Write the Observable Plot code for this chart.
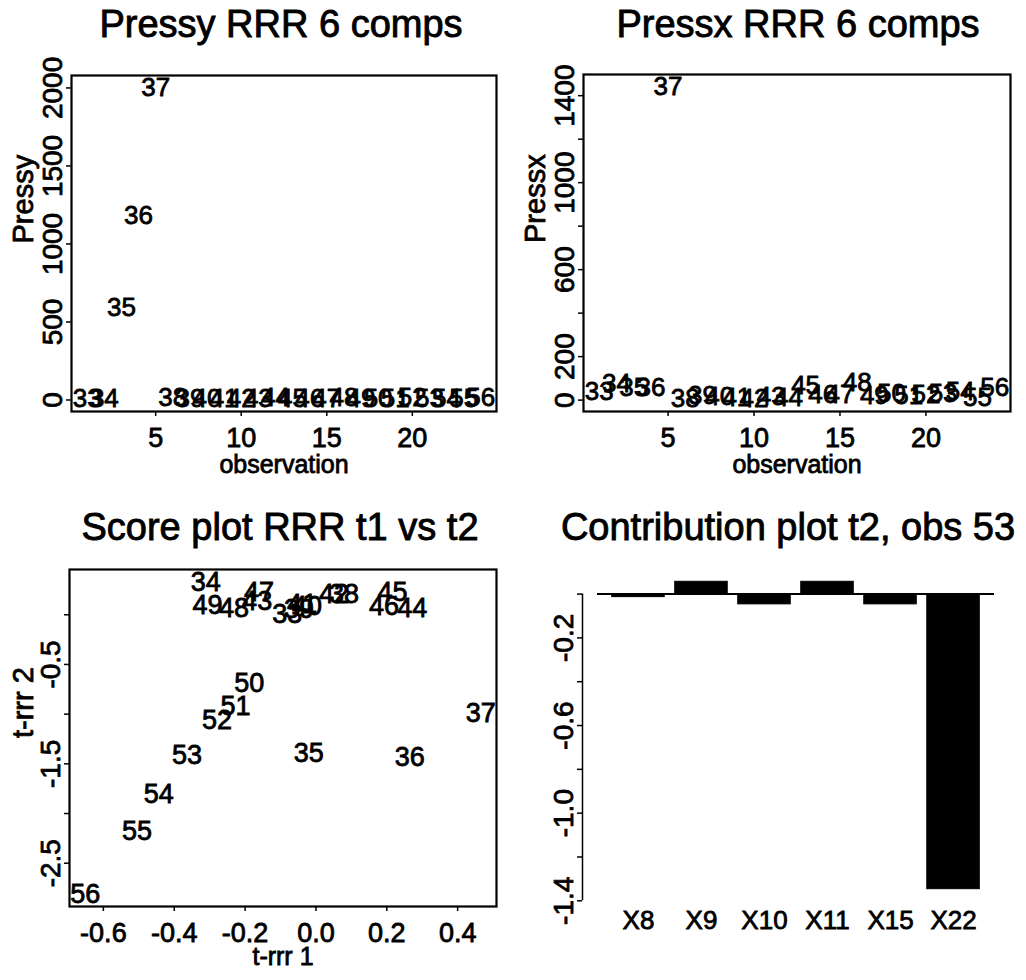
<!DOCTYPE html>
<html>
<head>
<meta charset="utf-8">
<script src="https://cdn.jsdelivr.net/npm/d3@7"></script>
<script src="https://cdn.jsdelivr.net/npm/@observablehq/plot@0.6"></script>
<style>
  body { margin: 0; background: #fff; }
  #root { position: relative; width: 1026px; height: 980px; overflow: hidden; background: #fff;
          font-family: "Liberation Sans", Arial, Helvetica, sans-serif; color: #000; }
  .title { position: absolute; font-size: 38px; line-height: 1; white-space: nowrap;
           transform: translateX(-50%); -webkit-text-stroke: 0.9px #000; }
  .panel { position: absolute; }
  #root svg text { stroke: #000; stroke-width: 0.8px; }
</style>
</head>
<body>
<div id="root"></div>
<script>
// ---------- data ----------
const obs = [33,34,35,36,37,38,39,40,41,42,43,44,45,46,47,48,49,50,51,52,53,54,55,56];
const pressy = [8,10,590,1180,2000,12,10,8,10,6,10,12,10,8,10,12,10,8,10,12,10,8,10,12];
const pressx = [40,75,55,55,1440,5,20,15,10,5,15,10,65,25,25,78,20,30,20,25,30,40,10,55];
const t1 = [-0.081,-0.311,-0.020,0.265,0.465,0.079,-0.048,-0.025,-0.039,0.051,-0.166,0.272,
            0.216,0.192,-0.161,-0.231,-0.306,-0.188,-0.227,-0.279,-0.364,-0.444,-0.505,-0.651];
const t2 = [0.00,0.33,-1.39,-1.43,-0.99,0.21,0.05,0.08,0.10,0.21,0.13,0.06,
            0.23,0.08,0.23,0.06,0.095,-0.69,-0.92,-1.06,-1.41,-1.81,-2.18,-2.81];
const categories = ["X8","X9","X10","X11","X15","X22"];
const contrib = [-0.014,0.056,-0.047,0.056,-0.047,-1.347];

const titles = ["Pressy RRR 6 comps","Pressx RRR 6 comps","Score plot RRR t1 vs t2","Contribution plot t2, obs 53"];

const obsTicks = [5,10,15,20];
const pressyTicks = [0,500,1000,1500,2000];
const pressyTickLabels = ["0","500","1000","1500","2000"];
const pressxTicks = [0,200,400,600,800,1000,1200,1400];
const pressxTickLabels = ["0","200","","600","","1000","","1400"];
const t1Ticks = [-0.6,-0.4,-0.2,0,0.2,0.4];
const t1TickLabels = ["-0.6","-0.4","-0.2","0.0","0.2","0.4"];
const t2Ticks = [0,-0.5,-1,-1.5,-2,-2.5];
const t2TickLabels = ["","-0.5","","-1.5","","-2.5"];
const contribTicks = [0,-0.2,-0.4,-0.6,-0.8,-1.0,-1.2,-1.4];
const contribTickLabels = ["","-0.2","","-0.6","","-1.0","","-1.4"];

// ---------- helpers ----------
const FONT = "'Liberation Sans', Arial, Helvetica, sans-serif";
const observation = obs.map((d, i) => i + 1);
const obsText = obs.map(String);
function rExt(arr) { const [a, b] = d3.extent(arr); const e = (b - a) * 0.04; return [a - e, b + e]; }
function fmt(ticks, labels) { const m = new Map(ticks.map((t, i) => [t, labels[i]])); return d => m.get(d) ?? ""; }
const baseStyle = { fontFamily: FONT, fontSize: "26px", color: "#000", background: "transparent", overflow: "visible" };

const root = document.getElementById("root");
function place(el, left, top, w, h) {
  const div = document.createElement("div");
  div.className = "panel";
  div.style.left = left + "px"; div.style.top = top + "px";
  div.style.width = w + "px"; div.style.height = h + "px";
  div.appendChild(el); root.appendChild(div);
}
function addTitle(text, cx, top) {
  const t = document.createElement("div");
  t.className = "title"; t.textContent = text;
  t.style.left = cx + "px"; t.style.top = top + "px";
  root.appendChild(t);
}

function axesCommon(xTicks, xFmt, yTicks, yFmt) {
  return [
    Plot.axisX({ticks: xTicks, tickFormat: xFmt, tickSize: 5, tickPadding: 11, fontSize: 27, label: null, strokeWidth: 1.5}),
    Plot.axisY({ticks: yTicks, tickFormat: yFmt, tickSize: 5, tickPadding: 5, tickRotate: -90, fontSize: 28, label: null, strokeWidth: 1.5})
  ];
}

// ---------- panel 1: Pressy ----------
const p1 = Plot.plot({
  width: 513, height: 420, marginLeft: 71, marginRight: 17, marginTop: 15, marginBottom: 69,
  style: baseStyle,
  x: {domain: rExt(observation)},
  y: {domain: rExt(pressy)},
  marks: [
    Plot.frame({stroke: "#000", strokeWidth: 2.2}),
    ...axesCommon(obsTicks, d => String(d), pressyTicks, fmt(pressyTicks, pressyTickLabels)),
    Plot.text(obsText, {x: observation, y: pressy, text: d => d, fontSize: 26}),
    Plot.text(["observation"], {frameAnchor: "bottom", dy: 61, fontSize: 25}),
    Plot.text(["Pressy"], {frameAnchor: "left", dx: -48, rotate: -90, fontSize: 29})
  ]
});
place(p1, 0, 60, 513, 420);

// ---------- panel 2: Pressx ----------
const p2 = Plot.plot({
  width: 513, height: 420, marginLeft: 70, marginRight: 16, marginTop: 14, marginBottom: 69,
  style: baseStyle,
  x: {domain: rExt(observation)},
  y: {domain: rExt(pressx)},
  marks: [
    Plot.frame({stroke: "#000", strokeWidth: 2.2}),
    ...axesCommon(obsTicks, d => String(d), pressxTicks, fmt(pressxTicks, pressxTickLabels)),
    Plot.text(obsText, {x: observation, y: pressx, text: d => d, fontSize: 26}),
    Plot.text(["observation"], {frameAnchor: "bottom", dy: 61, fontSize: 25}),
    Plot.text(["Pressx"], {frameAnchor: "left", dx: -48, rotate: -90, fontSize: 29})
  ]
});
place(p2, 513, 60, 513, 420);

// ---------- panel 3: Score plot ----------
const p3 = Plot.plot({
  width: 513, height: 425, marginLeft: 69, marginRight: 17, marginTop: 14, marginBottom: 74,
  style: baseStyle,
  x: {domain: rExt(t1)},
  y: {domain: rExt(t2)},
  marks: [
    Plot.frame({stroke: "#000", strokeWidth: 2.2}),
    ...axesCommon(t1Ticks, fmt(t1Ticks, t1TickLabels), t2Ticks, fmt(t2Ticks, t2TickLabels)),
    Plot.text(obsText, {x: t1, y: t2, text: d => d, fontSize: 27}),
    Plot.text(["t-rrr 1"], {frameAnchor: "bottom", dy: 58, fontSize: 25, letterSpacing: "2px"}),
    Plot.text(["t-rrr 2"], {frameAnchor: "left", dx: -46, rotate: -90, fontSize: 29, letterSpacing: "3px"})
  ]
});
place(p3, 0, 555, 513, 425);

// ---------- panel 4: Contribution bar plot ----------
const barX1 = categories.map((d, i) => 0.2 + 1.2 * i);   // barplot layout: width 1, space 0.2
const barX2 = barX1.map(v => v + 1);
const barMid = barX1.map(v => v + 0.5);
const xr = rExt([...barX1, ...barX2]);
const m4 = {left: 69, right: 32, top: 14, bottom: 79};
const inner4 = 513 - m4.left - m4.right;
const gapPx = 15;
const xLeft = xr[0] - gapPx * (xr[1] - xr[0]) / (inner4 - gapPx);
const yr4 = rExt([0, ...contrib]);
const p4 = Plot.plot({
  width: 513, height: 425, marginLeft: m4.left, marginRight: m4.right, marginTop: m4.top, marginBottom: m4.bottom,
  style: baseStyle,
  x: {domain: [xLeft, xr[1]], axis: null},
  y: {domain: yr4},
  marks: [
    Plot.rectY(categories, {x1: barX1, x2: barX2, y1: 0, y2: contrib, fill: "#000", stroke: "#000", strokeWidth: 1}),
    Plot.ruleY([0], {x1: xr[0], x2: xr[1], stroke: "#000", strokeWidth: 2}),
    Plot.ruleX([xLeft], {y1: d3.max(contribTicks), y2: d3.min(contribTicks), stroke: "#000", strokeWidth: 1.5}),
    Plot.axisY({ticks: contribTicks, tickFormat: fmt(contribTicks, contribTickLabels), tickSize: 5, tickPadding: 5,
                tickRotate: -90, fontSize: 28, label: null, strokeWidth: 1.5}),
    Plot.text(categories, {x: barMid, frameAnchor: "bottom", dy: 27, fontSize: 26})
  ]
});
place(p4, 513, 555, 513, 425);

// ---------- titles ----------
addTitle(titles[0], 281, 5);
addTitle(titles[1], 798, 5);
addTitle(titles[2], 280, 508);
addTitle(titles[3], 788, 508);
</script>
</body>
</html>
